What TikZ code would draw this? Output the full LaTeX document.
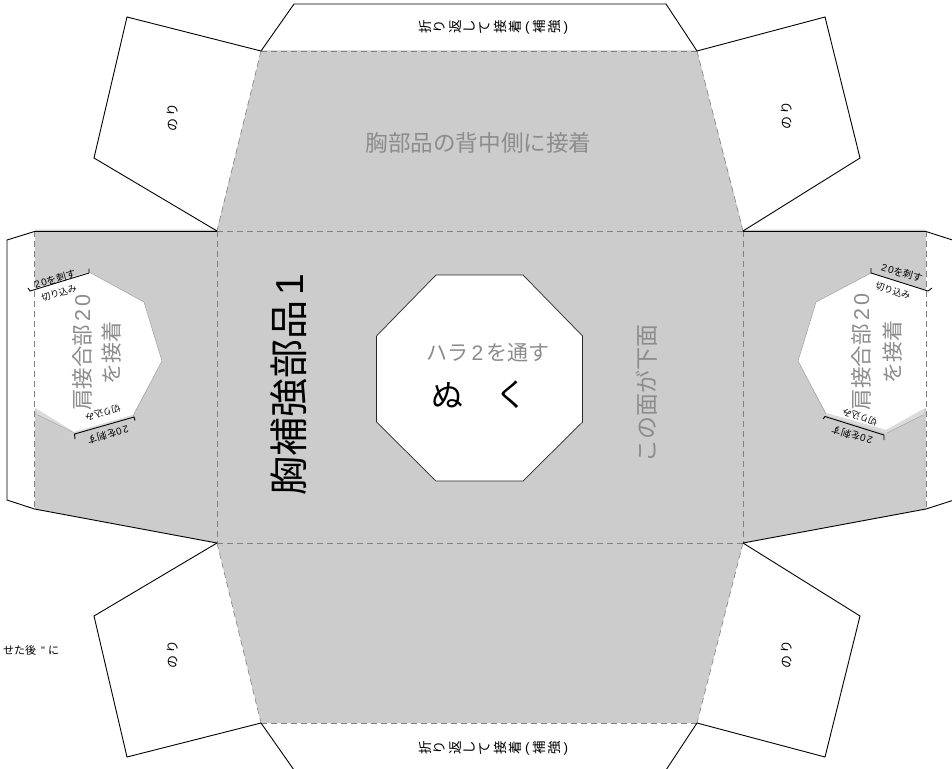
\documentclass[tikz,border=0pt]{standalone}
\usepackage{fontspec}
\setmainfont{Noto Sans CJK JP}
\newfontfamily\la{Liberation Sans}
\definecolor{pane}{HTML}{CCCCCC}
\definecolor{fold}{HTML}{808080}
\definecolor{lab}{HTML}{8C8C8C}
\newcommand\rc[1]{\makebox[15pt][c]{\rotatebox[origin=c]{90}{\makebox[14pt][c]{\rule[-2pt]{0pt}{12pt}#1}}}}
\newcommand\flaptext{\rc{折}\rc{り}\rc{返}\rc{し}\rc{て}\rc{接}\rc{着}\kern2pt{\la (}\kern3pt\rc{補}\rc{強}\kern1pt{\la )}}
\tikzset{
  fs/.style={font=\fontsize{#1}{#1}\selectfont},
  txt/.style={inner sep=0pt,outer sep=0pt,text=black},
  gtxt/.style={inner sep=0pt,outer sep=0pt,text=lab},
  cut/.style={draw=black,line width=0.9pt,line join=miter},
  foldl/.style={draw=fold,line width=0.6pt,dash pattern=on 6pt off 4pt},
  holeedge/.style={draw=gray!70,line width=0.6pt},
  wedge/.style={fill=gray!28,draw=none},
  brk/.style={draw=black,line width=0.9pt},
}
\begin{document}
\begin{tikzpicture}[x=1pt,y=-1pt]
\useasboundingbox (0,0) rectangle (952,768);
% gray sheet
\fill[pane] (261,50.5) -- (697,50.5) -- (743,229.5) -- (926,229.5) -- (926,509) -- (743,543) -- (697,723) -- (261,723) -- (217,543) -- (35,509) -- (35,229.5) -- (217,229.5) -- cycle;
% holes
\fill[white] (35,288) -- (89,272) -- (144,302) -- (162,361) -- (133,415) -- (74,432) -- (35,408) -- cycle;
\fill[white] (926,290) -- (871,273) -- (816,302) -- (798,361) -- (826,413) -- (886,430) -- (926,408) -- cycle;
\fill[wedge] (35,408) -- (74,432) -- (133,415) -- (134,417) -- (74,434) -- (38,415) -- cycle;
\fill[wedge] (925,408) -- (886,430) -- (826,413) -- (825,415) -- (886,433) -- (923,415) -- cycle;
\draw[holeedge] (89,272) -- (144,302) -- (162,361) -- (133,416);
\draw[holeedge] (38,415) -- (74,433);
\draw[holeedge] (871,273) -- (816,302) -- (798,361) -- (826,414);
\draw[holeedge] (923,415) -- (887,433);
% centre hole
\draw[fill=white,draw=black!85,line width=0.7pt] (436,275) -- (523,275) -- (582.5,336) -- (582.5,422) -- (523,481) -- (436,481) -- (376.5,422) -- (376.5,336) -- cycle;
% fold lines
\draw[foldl] (261,51) -- (697,51);
\draw[foldl] (261,51) -- (217,231);
\draw[foldl] (697,51) -- (743,231);
\draw[foldl] (217,231) -- (743,231);
\draw[foldl] (217,543) -- (743,543);
\draw[foldl] (217,543) -- (261,723);
\draw[foldl] (743,543) -- (697,723);
\draw[foldl] (261,723) -- (697,723);
\draw[foldl] (217,231) -- (217,543);
\draw[foldl] (743,231) -- (743,543);
\draw[foldl] (34.5,231) -- (34.5,509);
\draw[foldl] (926,231) -- (926,509);
% cut lines
\draw[cut] (261,51) -- (294,4) -- (666,4) -- (697,51);
\draw[cut] (261,723) -- (294,770) (666,770) -- (697,723);
\draw[cut] (217,231) -- (94,158) -- (127,17) -- (261,51);
\draw[cut] (743,231) -- (860,158) -- (825,17) -- (697,51);
\draw[cut] (217,543) -- (94,616) -- (127,757) -- (261,723);
\draw[cut] (743,543) -- (860,616) -- (825,757) -- (697,723);
\draw[cut] (217,231.5) -- (34.5,231.5) -- (7,240) -- (7,500) -- (34.5,509) -- (217,543);
\draw[cut] (743,231.5) -- (926,231.5) -- (954,240.5);
\draw[cut] (743,543) -- (926,509) -- (954,500);
% slit brackets
\draw[brk] (28,288) -- (30,291) -- (89,273) -- (89,268.5);
\draw[brk] (75,439) -- (74.5,434) -- (134,417) -- (135,420.5);
\draw[brk] (871,268) -- (871,273) -- (928,291) -- (932,288);
\draw[brk] (823,419) -- (825,416.5) -- (884,435) -- (884,440);
% texts
\node[gtxt,fs=22.6] (t1) at (478.5,143) {胸部品の背中側に接着};
\node[gtxt,fs=21] (t2) at (488,353) {ハラ{\la\,2\,}を通す};
\node[txt,fs=32] (t3) at (447,395) {ぬ};
\node[txt,fs=32] (t4) at (511,395) {く};
\node[gtxt,fs=23,rotate=90] (t5) at (647,393.5) {この面が下面};
\node[txt,fs=39,rotate=90] (t6) at (289,385) {胸補強部品{\la\kern5pt 1}};
\node[gtxt,fs=21.5,rotate=90] (t7) at (82,352.5) {肩接合部{\la\,2\kern3pt 0}};
\node[gtxt,fs=21,rotate=90] (t8) at (111,352.5) {を接着};
\node[gtxt,fs=21.5,rotate=90] (t9) at (861,352) {肩接合部{\la\,2\kern3pt 0}};
\node[gtxt,fs=21,rotate=90] (t10) at (892,352) {を接着};
\node[txt,fs=10,rotate=16] (a1) at (55,279) {{\la 2\kern1.5pt 0}を刺す};
\node[txt,fs=9,rotate=16] (a2) at (59,293) {切り込み};
\node[txt,fs=9,rotate=196] (a3) at (103,413) {切り込み};
\node[txt,fs=10,rotate=196] (a4) at (108,435) {{\la 2\kern1.5pt 0}を刺す};
\node[txt,fs=10,rotate=-17] (b1) at (902,273) {{\la 2\kern1.5pt 0}を刺す};
\node[txt,fs=9,rotate=-17] (b2) at (893,291) {切り込み};
\node[txt,fs=9,rotate=163] (b3) at (860,417) {切り込み};
\node[txt,fs=10,rotate=163] (b4) at (852,435) {{\la 2\kern1.5pt 0}を刺す};
\node[txt,fs=13,rotate=90] (n1) at (172.5,117.5) {の\kern2pt り};
\node[txt,fs=13,rotate=90] (n2) at (787,115.5) {の\kern2pt り};
\node[txt,fs=13,rotate=90] (n3) at (172.5,654) {の\kern2pt り};
\node[txt,fs=13,rotate=90] (n4) at (787,654) {の\kern2pt り};
\node[txt,fs=13.5] (f1) at (493,27) {\flaptext};
\node[txt,fs=13.5] (f2) at (493,748) {\flaptext};
\node[txt,fs=11,anchor=east] (s1) at (59,650) {せた後\kern5pt{\la "}\kern3pt に};
\end{tikzpicture}
\end{document}
